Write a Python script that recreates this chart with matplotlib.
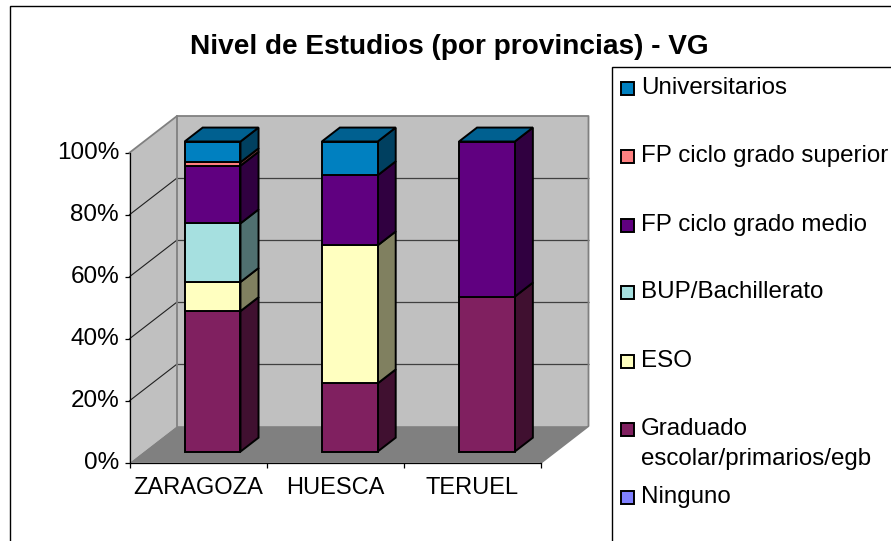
import matplotlib
matplotlib.use("Agg")
import matplotlib.pyplot as plt
from matplotlib.patches import Rectangle, Polygon
from matplotlib.transforms import ScaledTranslation

plt.rcParams['font.family'] = ['Liberation Sans', 'DejaVu Sans']

categories = ['ZARAGOZA', 'HUESCA', 'TERUEL']
ninguno = [0, 0, 0]
graduado = [45.3, 22.0, 50.0]
eso = [9.4, 44.5, 0]
bup = [18.9, 0, 0]
fp_medio = [18.6, 22.6, 50.0]
fp_superior = [1.1, 0, 0]
universitarios = [6.7, 10.9, 0]

series = [ninguno, graduado, eso, bup, fp_medio, fp_superior, universitarios]
front_colors = ['#8080FF', '#802060', '#FFFFC0', '#A6E0E0', '#600080', '#FF8080', '#0080C0']
side_colors = ['#404080', '#401030', '#808060', '#507070', '#300040', '#804040', '#004060']
top_color = '#006090'

legend_labels = ['Universitarios', 'FP ciclo grado superior', 'FP ciclo grado medio',
                 'BUP/Bachillerato', 'ESO', 'Graduado\nescolar/primarios/egb', 'Ninguno']
legend_colors = ['#0080C0', '#FF8080', '#600080', '#A6E0E0', '#FFFFC0', '#802060', '#8080FF']
legend_y = [88, 156, 225, 292, 361, 429, 497]
yticks = [0, 20, 40, 60, 80, 100]

W, H = 891, 541
fig = plt.figure(figsize=(W / 100, H / 100), dpi=100)
fig.patch.set_facecolor('white')

# overlay in pixel coordinates for frame, title and legend
ov = fig.add_axes([0, 0, 1, 1], zorder=5)
ov.set_xlim(0, W)
ov.set_ylim(H, 0)
ov.axis('off')
ov.patch.set_alpha(0)

# main axes: front plane of the 3D box
L, R, T, B = 129.5, 541.0, 152.7, 462.8
ax = fig.add_axes([L / W, 1 - B / H, (R - L) / W, (B - T) / H], zorder=2)
ax.set_xlim(-0.5, 2.5)
ax.set_ylim(0, 100)
ax.patch.set_alpha(0)

DX = 47.5 / ((R - L) / 3)     # depth vector, data units
DY = 36.7 / ((B - T) / 100)
BAR_W = 0.407
Z0, Z1 = 0.305, 0.685


def proj(x, y, z):
    return (x + z * DX, y + z * DY)


x0, x1 = -0.5, 2.5
GRAY = '#808080'
ax.add_patch(Polygon([proj(x0, 0, 0), proj(x0, 100, 0), proj(x0, 100, 1), proj(x0, 0, 1)],
                     fc='#C0C0C0', ec='none', clip_on=False, zorder=1))
ax.add_patch(Polygon([proj(x0, 0, 1), proj(x0, 100, 1), proj(x1, 100, 1), proj(x1, 0, 1)],
                     fc='#C0C0C0', ec='none', clip_on=False, zorder=1))
ax.add_patch(Polygon([proj(x0, 0, 0), proj(x1, 0, 0), proj(x1, 0, 1), proj(x0, 0, 1)],
                     fc=GRAY, ec='none', clip_on=False, zorder=1))

# gridlines over the side wall and the back wall
for v in yticks[1:-1]:
    a, b, c = proj(x0, v, 0), proj(x0, v, 1), proj(x1, v, 1)
    ax.plot([a[0], b[0]], [a[1], b[1]], color='#202020', lw=0.8, clip_on=False, zorder=2)
    ax.plot([b[0], c[0]], [b[1], c[1]], color='#404040', lw=0.9, clip_on=False, zorder=2,
            solid_capstyle='butt')

# wall outlines
pts = [proj(x0, 100, 0), proj(x0, 100, 1), proj(x1, 100, 1), proj(x1, 0, 1), proj(x1, 0, 0)]
ax.plot([p[0] for p in pts], [p[1] for p in pts], color=GRAY, lw=1.3, clip_on=False, zorder=2)
pts = [proj(x0, 0, 1), proj(x0, 100, 1)]
ax.plot([p[0] for p in pts], [p[1] for p in pts], color=GRAY, lw=1.3, clip_on=False, zorder=2)

# bars
EDGE = dict(ec='black', lw=1.4, joinstyle='miter', clip_on=False, zorder=3)
for i in range(len(categories)):
    xl = i - BAR_W / 2
    xr = i + BAR_W / 2
    base = 0
    for vals, fc, sc in zip(series, front_colors, side_colors):
        v = vals[i]
        if v == 0:
            continue
        top = base + v
        ax.add_patch(Polygon([proj(xr, base, Z0), proj(xr, top, Z0), proj(xr, top, Z1), proj(xr, base, Z1)],
                             fc=sc, **EDGE))
        fx, fb = proj(i, base, Z0)
        ax.bar(fx, v, bottom=fb, width=BAR_W, color=fc, edgecolor='black', linewidth=1.4,
               clip_on=False, zorder=3)
        base = top
    ax.add_patch(Polygon([proj(xl, base, Z0), proj(xr, base, Z0), proj(xr, base, Z1), proj(xl, base, Z1)],
                         fc=top_color, **EDGE))

# axes
for s in ['top', 'right']:
    ax.spines[s].set_visible(False)
for s in ['left', 'bottom']:
    ax.spines[s].set_linewidth(0.9)
    ax.spines[s].set_zorder(2.5)
ax.set_yticks(yticks)
ax.set_yticklabels([f'{v}%' for v in yticks], fontsize=17.5)
ax.set_xticks([-0.5, 0.5, 1.5, 2.5])
ax.set_xticklabels([])
ax.set_xticks(range(len(categories)), labels=categories, minor=True, fontsize=17.0)
ax.tick_params(axis='x', which='minor', length=0, pad=10.5)
ax.tick_params(axis='both', which='major', length=3.5, width=0.9)
ax.tick_params(axis='y', which='major', pad=4)
lift = ScaledTranslation(0, 2 / 72 * 72 / 100, fig.dpi_scale_trans)
for lbl in ax.get_yticklabels():
    lbl.set_transform(lbl.get_transform() + lift)

# outer frame and legend box
ov.plot([9.5, 9.5, W], [H, 5.5, 5.5], color='black', lw=1.0, solid_joinstyle='miter')
ov.plot([611.5, 611.5, W], [H, 66.5, 66.5], color='black', lw=1.0, solid_joinstyle='miter')
ov.text(449, 54, 'Nivel de Estudios (por provincias) - VG', ha='center', va='baseline',
        fontsize=20.2, fontweight='bold')

for lab, col, y in zip(legend_labels, legend_colors, legend_y):
    ov.add_patch(Rectangle((620.5, y - 6.5), 13, 13, fc=col, ec='black', lw=1.4))
    ov.text(641, y + 6, lab.split('\n')[0], ha='left', va='baseline', fontsize=17.35)
    if '\n' in lab:
        ov.text(641, y + 36, lab.split('\n')[1], ha='left', va='baseline', fontsize=17.35)

fig.savefig('out.png', dpi=100)
